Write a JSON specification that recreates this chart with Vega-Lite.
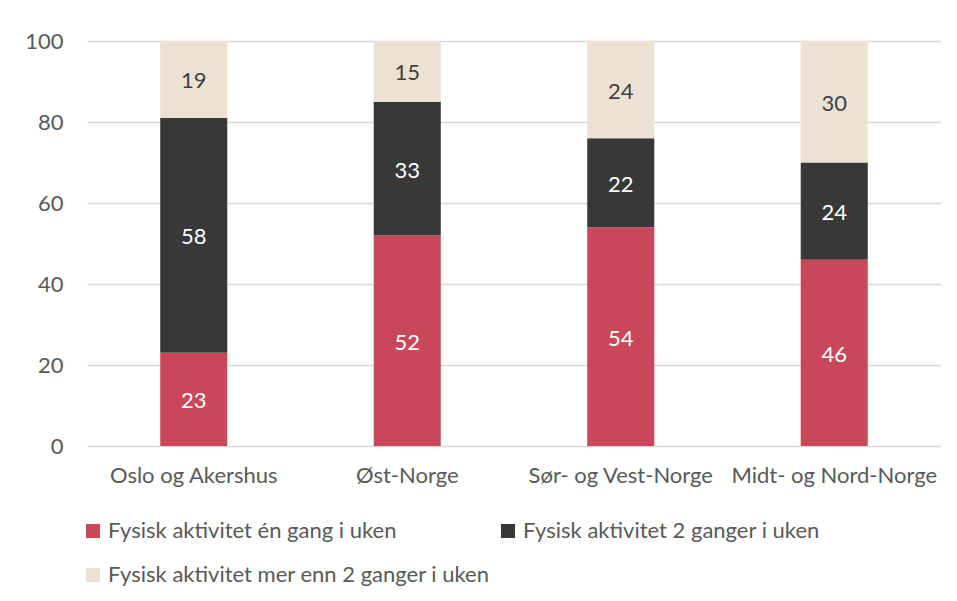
{
  "$schema": "https://vega.github.io/schema/vega-lite/v6.json",
  "width": 854,
  "height": 405,
  "autosize": {"type": "none"},
  "padding": {"left": 87, "top": 41, "right": 16, "bottom": 155},
  "config": {"view": {"stroke": null}, "font": "Lato", "background": "white"},
  "data": {
    "values": [
      {"region": "Oslo og Akershus", "cat": "Fysisk aktivitet én gang i uken", "o": 1, "value": 23},
      {"region": "Oslo og Akershus", "cat": "Fysisk aktivitet 2 ganger i uken", "o": 2, "value": 58},
      {"region": "Oslo og Akershus", "cat": "Fysisk aktivitet mer enn 2 ganger i uken", "o": 3, "value": 19},
      {"region": "Øst-Norge", "cat": "Fysisk aktivitet én gang i uken", "o": 1, "value": 52},
      {"region": "Øst-Norge", "cat": "Fysisk aktivitet 2 ganger i uken", "o": 2, "value": 33},
      {"region": "Øst-Norge", "cat": "Fysisk aktivitet mer enn 2 ganger i uken", "o": 3, "value": 15},
      {"region": "Sør- og Vest-Norge", "cat": "Fysisk aktivitet én gang i uken", "o": 1, "value": 54},
      {"region": "Sør- og Vest-Norge", "cat": "Fysisk aktivitet 2 ganger i uken", "o": 2, "value": 22},
      {"region": "Sør- og Vest-Norge", "cat": "Fysisk aktivitet mer enn 2 ganger i uken", "o": 3, "value": 24},
      {"region": "Midt- og Nord-Norge", "cat": "Fysisk aktivitet én gang i uken", "o": 1, "value": 46},
      {"region": "Midt- og Nord-Norge", "cat": "Fysisk aktivitet 2 ganger i uken", "o": 2, "value": 24},
      {"region": "Midt- og Nord-Norge", "cat": "Fysisk aktivitet mer enn 2 ganger i uken", "o": 3, "value": 30}
    ]
  },
  "encoding": {
    "x": {
      "field": "region",
      "type": "nominal",
      "sort": ["Oslo og Akershus", "Øst-Norge", "Sør- og Vest-Norge", "Midt- og Nord-Norge"],
      "scale": {"paddingInner": 0.686, "paddingOuter": 0.343},
      "axis": {
        "title": null,
        "labelAngle": 0,
        "labelFontSize": 22,
        "labelColor": "#595959",
        "labelPadding": 19,
        "labelLimit": 0,
        "ticks": false,
        "domain": false
      }
    }
  },
  "layer": [
    {
      "mark": {"type": "bar"},
      "encoding": {
        "y": {
          "field": "value",
          "type": "quantitative",
          "stack": "zero",
          "scale": {"domain": [0, 100], "nice": false},
          "axis": {
            "title": null,
            "values": [0, 20, 40, 60, 80, 100],
            "labelFontSize": 22,
            "labelColor": "#595959",
            "labelPadding": 24,
            "ticks": false,
            "domain": false,
            "gridColor": "#D9D9D9",
            "gridWidth": 1.3
          }
        },
        "color": {
          "field": "cat",
          "type": "nominal",
          "scale": {
            "domain": ["Fysisk aktivitet én gang i uken", "Fysisk aktivitet 2 ganger i uken", "Fysisk aktivitet mer enn 2 ganger i uken"],
            "range": ["#C8485A", "#383838", "#EDE1D3"]
          },
          "legend": {
            "title": null,
            "orient": "none",
            "legendX": -5,
            "legendY": 479,
            "direction": "horizontal",
            "columns": 2,
            "columnPadding": 7,
            "rowPadding": 22,
            "symbolType": "square",
            "symbolSize": 196,
            "symbolStrokeWidth": 0,
            "symbolOpacity": 1,
            "labelFontSize": 22,
            "labelColor": "#595959",
            "labelOffset": 4,
            "labelLimit": 0
          }
        },
        "order": {"field": "o", "type": "quantitative"}
      }
    },
    {
      "mark": {"type": "text", "fontSize": 22, "baseline": "middle", "dy": 2},
      "encoding": {
        "y": {"field": "value", "type": "quantitative", "stack": "zero", "bandPosition": 0.5},
        "text": {"field": "value", "type": "quantitative"},
        "order": {"field": "o", "type": "quantitative"},
        "color": {
          "condition": {"test": "datum.o == 3", "value": "#404040"},
          "value": "#FFFFFF"
        }
      }
    }
  ]
}
